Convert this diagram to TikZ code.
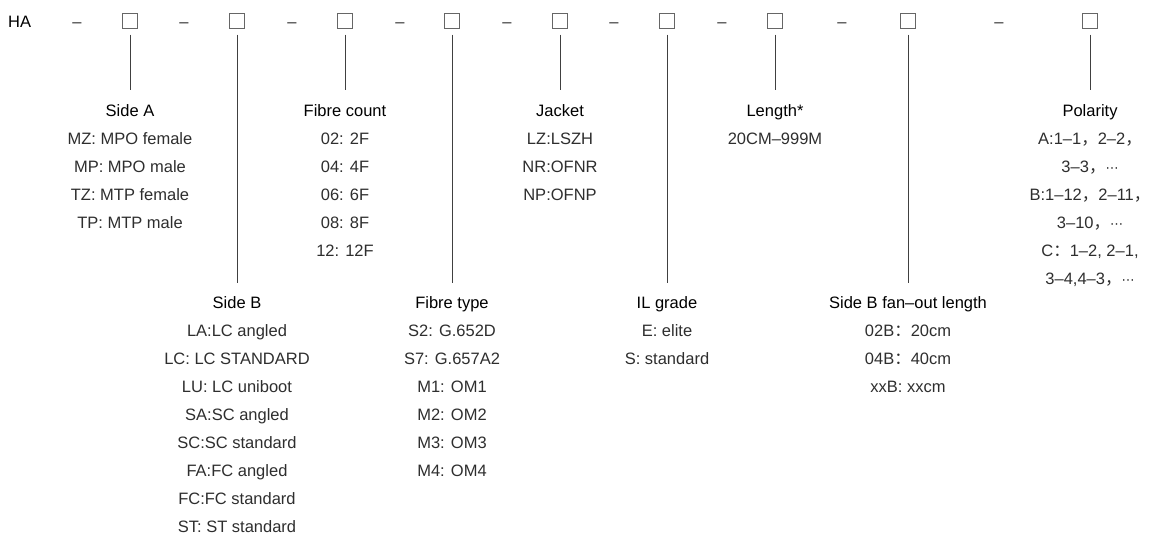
\documentclass[tikz,border=0pt]{standalone}
\usepackage{fontspec}
\setmainfont{Liberation Sans}
\newfontfamily\cjk{Noto Sans CJK SC}
\newfontfamily\dvs{DejaVu Sans}
\newcommand{\fw}[1]{{\cjk #1}}
\newcommand{\mdots}{{\dvs\fontsize{13}{16}\selectfont ⋯}}
\begin{document}
\begin{tikzpicture}[x=1pt,y=-1pt,
  txt/.style={font=\fontsize{16.5}{20}\selectfont, inner sep=0pt, anchor=base, text=black!82},
  head/.style={txt, text=black},
  slot/.style={draw=black!60, line width=1pt, minimum size=15pt, inner sep=0pt},
  lead/.style={draw=black!75, line width=1pt},
]
\useasboundingbox (0,0) rectangle (1154,536);

\node[head, anchor=base west] (ha) at (8,27.5) {HA};
\foreach \x [count=\i] in {77,184,292,400,507,614,722,842,999}
  \node[txt] (d\i) at (\x,27.5) {–};
\foreach \x [count=\i] in {130,237,345,452,560,667,775,908,1090}
  \node[slot] (b\i) at (\x,20.5) {};

% line ends
\foreach \x/\y [count=\i] in {130/90,237/283,345/90,452/283,560/90,667/283,775/90,908/283,1090/90}
  \coordinate (e\i) at (\x,\y);
\foreach \i in {1,...,9}
  \draw[lead] (b\i.south) ++(0,6) -- (e\i);

% Side A
\node[head] (h1) at (130,116.5) {Side A};
\foreach \t [count=\i] in {MZ: MPO female, MP: MPO male, TZ: MTP female, TP: MTP male}
  \node[txt] (a\i) at (130,116.5+28*\i) {\t};

% Side B
\node[head] (h2) at (237,308) {Side B};
\foreach \t [count=\i] in {LA:LC angled, LC: LC STANDARD, LU: LC uniboot, SA:SC angled, SC:SC standard, FA:FC angled, FC:FC standard, ST: ST standard}
  \node[txt] (bb\i) at (237,308+28*\i) {\t};

% Fibre count
\node[head] (h3) at (345,116.5) {Fibre count};
\foreach \t [count=\i] in {02: 2F, 04: 4F, 06: 6F, 08: 8F, 12: 12F}
  \node[txt] (c\i) at (345,116.5+28*\i) {\t};

% Fibre type
\node[head] (h4) at (452,308) {Fibre type};
\foreach \t [count=\i] in {S2: G.652D, S7: G.657A2, M1: OM1, M2: OM2, M3: OM3, M4: OM4}
  \node[txt] (t\i) at (452,308+28*\i) {\t};

% Jacket
\node[head] (h5) at (560,116.5) {Jacket};
\foreach \t [count=\i] in {LZ:LSZH, NR:OFNR, NP:OFNP}
  \node[txt] (j\i) at (560,116.5+28*\i) {\t};

% IL grade
\node[head] (h6) at (667,308) {IL grade};
\foreach \t [count=\i] in {E: elite, S: standard}
  \node[txt] (g\i) at (667,308+28*\i) {\t};

% Length
\node[head] (h7) at (775,116.5) {Length*};
\node[txt] (l1) at (775,144.5) {20CM–999M};

% Side B fan-out length
\node[head] (h8) at (908,308) {Side B fan–out length};
\foreach \t [count=\i] in {02B\fw{：}20cm, 04B\fw{：}40cm, xxB: xxcm}
  \node[txt] (f\i) at (908,308+28*\i) {\t};

% Polarity
\node[head] (h9) at (1090,116.5) {Polarity};
\foreach \t [count=\i] in {A:1–1\fw{，}2–2\fw{，}, 3–3\fw{，}\mdots, B:1–12\fw{，}2–11\fw{，}, 3–10\fw{，}\mdots, {C\fw{：}1–2, 2–1,}, {3–4,4–3\fw{，}\mdots}}
  \node[txt] (p\i) at (1090,116.5+28*\i) {\t};
\end{tikzpicture}
\end{document}
